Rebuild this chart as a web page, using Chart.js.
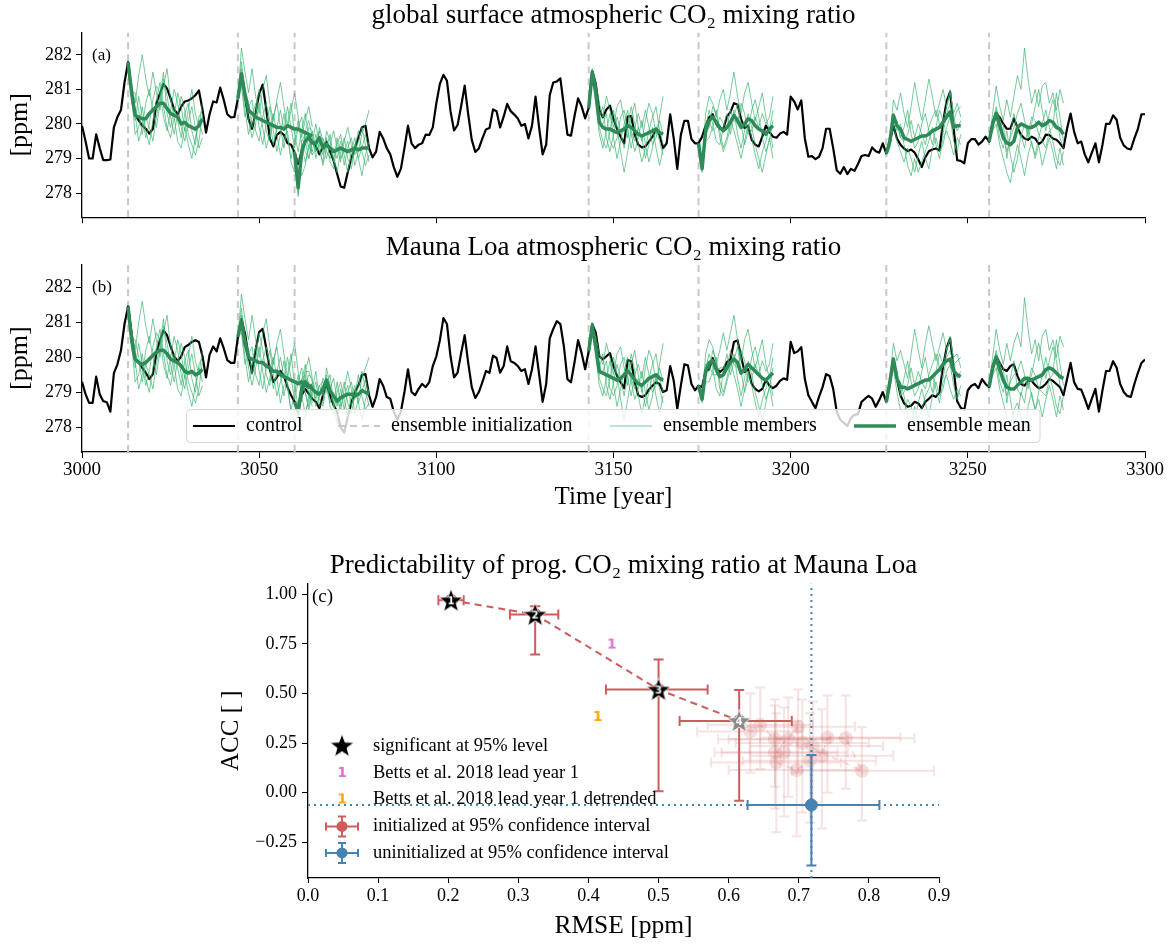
<!DOCTYPE html>
<html>
<head>
<meta charset="utf-8">
<script src="https://cdn.jsdelivr.net/npm/chart.js@4.4.0/dist/chart.umd.min.js"></script>
<style>
html, body { margin: 0; padding: 0; background: #fff; width: 1168px; height: 945px; overflow: hidden; }
.panel { position: absolute; left: 0; width: 1168px; }
#boxA { top: 0; height: 232px; }
#boxB { top: 232px; height: 290px; }
#boxC { top: 550px; height: 395px; }
</style>
</head>
<body>
<div class="panel" id="boxA"><canvas id="chartA"></canvas></div>
<div class="panel" id="boxB"><canvas id="chartB"></canvas></div>
<div class="panel" id="boxC"><canvas id="chartC"></canvas></div>
<script>
// ---- data: control runs, 3000..3300 ----
var years = [];
for (var yr = 3000; yr <= 3300; yr++) years.push(yr);

var controlGlobal = [
279.95,279.5,279.0,279.0,279.7,279.3,278.95,278.95,278.97,279.9,280.2,280.4,281.2,281.79,
280.88,280.28,280.1,279.95,279.86,279.72,279.86,280.6,280.88,281.16,281.02,280.74,280.42,280.28,280.5,280.65,280.68,280.74,280.83,280.97,280.42,279.75,280.28,280.65,280.62,281.05,280.7,280.28,280.19,280.2,280.74,
281.45,280.79,280.14,279.86,280.32,280.88,281.14,280.42,279.58,279.35,279.68,279.77,279.68,279.44,279.4,279.17,278.84,279.21,279.49,279.63,279.49,279.35,279.12,279.35,279.49,279.21,278.94,278.56,278.19,278.15,278.6,279.0,279.3,279.6,279.9,
279.95,279.3,279.03,279.2,279.77,279.58,279.3,279.12,278.75,278.47,278.7,279.3,279.95,279.44,279.3,279.4,279.44,279.69,279.68,279.9,280.6,281.16,281.42,281.25,280.37,279.81,279.97,280.51,281.11,280.28,279.54,279.19,279.29,279.58,279.84,279.88,280.42,280.37,279.9,280.21,280.58,280.37,280.27,280.16,279.95,280.0,279.58,279.95,280.79,279.9,279.12,279.4,280.83,281.2,281.23,281.32,280.51,279.69,279.66,280.23,280.74,280.51,280.16,280.46,281.53,281.16,280.4,
280.19,280.42,280.53,280.14,279.86,279.63,279.44,280.21,280.23,279.68,279.4,279.32,279.35,279.49,279.63,279.86,279.68,279.3,279.44,280.28,279.58,278.7,279.68,280.09,280.09,279.56,279.44,279.44,279.63,279.95,280.19,280.28,280.0,279.86,279.86,280.21,280.34,280.6,280.56,280.14,279.88,279.95,279.54,279.4,279.35,279.63,279.95,279.77,279.63,279.6,279.72,279.77,279.69,280.79,280.65,280.42,280.68,279.58,279.05,279.07,278.98,279.05,279.3,279.86,279.86,279.3,278.66,278.56,278.75,278.55,278.7,278.64,278.84,279.07,279.1,
279.07,279.32,279.21,279.17,279.44,279.14,279.49,279.95,279.58,279.4,279.29,279.21,279.26,279.17,278.98,278.75,279.03,279.21,279.26,279.29,279.23,280.05,280.65,280.93,279.86,278.95,278.93,278.86,279.44,279.56,279.56,279.4,279.49,279.63,279.49,280.05,280.32,280.19,280.0,279.86,279.86,280.16,279.9,279.69,279.58,279.54,279.63,279.58,279.42,279.49,279.69,279.68,279.58,279.54,279.44,279.3,279.86,280.3,279.77,279.44,279.49,279.12,278.89,279.17,279.44,278.89,279.4,280.0,280.0,280.25,280.12,279.6,279.38,279.29,279.26,279.58,279.86,280.28,280.28
];

var controlMauna = [
279.3,278.95,278.7,278.7,279.45,278.95,278.75,278.72,278.45,279.55,279.8,280.2,280.95,281.45,
280.68,279.94,279.86,279.7,279.56,279.38,279.52,280.12,280.49,280.77,280.63,280.31,280.03,279.89,280.03,280.29,280.35,280.44,280.49,280.44,280.03,279.43,280.07,280.31,280.17,280.54,280.26,279.92,279.84,279.84,280.58,
281.09,280.68,280.03,279.56,280.21,280.72,280.81,280.26,279.66,279.29,279.43,279.61,279.47,279.15,278.92,278.73,278.5,278.92,279.1,278.96,278.82,278.73,278.55,278.92,279.24,278.92,278.64,278.45,278.0,277.85,278.3,278.7,279.0,279.2,279.5,
279.52,278.92,278.59,278.87,279.38,279.19,278.87,278.82,278.45,278.22,278.45,279.01,279.66,279.01,278.92,279.1,279.24,279.15,279.29,279.75,280.03,280.49,281.12,280.95,280.03,279.43,279.56,280.12,280.63,279.84,279.15,278.84,279.01,279.29,279.61,279.56,280.05,279.98,279.56,279.75,280.31,279.89,279.84,279.75,279.61,279.66,279.24,279.66,280.31,279.52,278.73,279.24,280.54,280.81,281.03,280.95,280.31,279.38,279.29,279.86,280.49,280.12,279.66,280.17,280.95,280.7,280.03,
279.94,280.03,280.12,279.75,279.47,279.29,279.12,279.92,279.89,279.29,278.92,278.87,278.92,279.08,279.19,279.29,279.24,279.01,279.06,279.75,279.33,278.53,279.19,279.8,279.77,279.24,279.06,279.19,279.15,279.61,279.66,279.98,279.7,279.58,279.66,279.86,279.94,280.44,280.49,280.03,279.58,279.66,279.24,279.1,279.03,279.1,279.36,279.19,279.12,279.19,279.33,279.4,279.36,280.44,280.12,280.17,280.29,279.38,278.92,278.73,278.55,278.87,279.15,279.52,279.47,279.1,278.45,278.22,278.13,278.04,278.27,278.36,278.38,278.73,278.82,
278.9,278.82,278.59,278.78,279.01,278.73,279.29,279.92,279.38,278.92,278.69,278.59,278.62,278.73,278.69,278.55,278.73,278.82,278.92,278.87,279.01,279.75,280.26,280.54,279.66,278.75,278.56,278.5,279.06,279.19,279.24,279.12,279.38,279.24,279.15,279.75,280.03,279.84,279.66,279.61,279.75,279.8,279.47,279.24,279.19,279.33,279.33,279.21,279.12,279.15,279.24,279.38,279.33,279.24,279.15,278.92,279.38,279.84,279.29,279.1,279.08,278.82,278.53,278.82,279.1,278.45,279.06,279.61,279.61,279.89,279.7,279.24,279.01,278.9,278.87,279.24,279.56,279.84,279.94
];

// ---- ensembles: start years, means and members (22 years each) ----
var initYears = [3013, 3044, 3060, 3143, 3174, 3227, 3256];

var meanGlobal = [
[281.79,280.9,280.25,280.2,280.15,280.15,280.3,280.4,280.5,280.6,280.6,280.45,280.3,280.25,280.2,280.0,280.05,279.95,279.9,279.85,279.95,280.15],
[280.74,281.45,280.85,280.4,280.3,280.2,280.15,280.1,280.05,280.0,279.95,279.9,279.9,279.85,279.95,279.9,279.85,279.85,279.8,279.75,279.7,279.65],
[279.17,278.15,279.2,279.5,279.6,279.45,279.45,279.6,279.3,279.4,279.3,279.2,279.25,279.3,279.25,279.2,279.25,279.3,279.25,279.3,279.3,279.3],
[280.46,281.5,280.9,280.05,279.9,279.85,279.85,279.8,279.75,279.8,279.85,279.95,279.9,279.8,279.7,279.65,279.7,279.75,279.8,279.85,279.75,279.7],
[279.44,278.7,279.8,280.1,280.2,280.05,279.9,279.8,279.9,280.05,280.25,280.1,279.9,280.0,280.15,280.1,279.95,279.85,279.8,279.7,279.85,279.95],
[279.14,279.5,280.25,279.95,279.85,279.6,279.55,279.5,279.55,279.6,279.65,279.65,279.7,279.8,279.85,279.9,280.05,280.2,280.35,279.9,279.95,279.95],
[279.49,280.0,280.3,279.95,279.6,279.45,279.4,279.5,279.9,280.0,279.95,279.9,279.9,279.95,280.05,279.95,280.0,280.1,280.05,279.9,279.85,279.7]
];

var meanMauna = [
[281.45,280.5,279.95,279.85,279.8,279.85,279.95,280.05,280.15,280.2,280.2,280.1,279.95,279.9,279.85,279.75,279.6,279.55,279.6,279.5,279.55,279.65],
[280.58,281.05,280.4,280.0,279.95,279.9,279.85,279.85,279.75,279.7,279.6,279.6,279.5,279.45,279.4,279.35,279.3,279.25,279.3,279.2,279.15,279.2],
[278.73,278.45,279.1,279.3,279.2,279.1,279.0,278.95,279.1,279.35,279.05,278.9,278.75,278.85,278.9,278.95,278.95,278.9,278.95,279.05,279.0,278.95],
[280.17,280.9,280.3,279.6,279.55,279.5,279.45,279.4,279.35,279.4,279.5,279.6,279.5,279.35,279.25,279.2,279.3,279.4,279.45,279.5,279.4,279.35],
[279.19,278.8,279.6,279.85,279.9,279.65,279.45,279.5,279.7,279.85,279.95,279.85,279.55,279.65,279.8,279.7,279.6,279.5,279.4,279.35,279.45,279.55],
[278.73,279.3,279.95,279.4,279.15,279.15,279.1,279.15,279.2,279.25,279.3,279.35,279.35,279.45,279.55,279.65,279.8,279.9,279.95,279.6,279.5,279.45],
[279.15,279.7,280.0,279.65,279.35,279.15,279.1,279.1,279.2,279.3,279.4,279.4,279.35,279.4,279.45,279.5,279.65,279.7,279.65,279.55,279.45,279.4]
];

var membersGlobal = [
[
[281.8,281.2,280.6,281.4,282.0,281.3,280.8,281.5,280.9,280.4,281.1,281.6,280.7,280.2,280.9,280.5,279.8,280.4,281.0,280.3,279.9,280.6],
[281.8,280.8,279.7,279.9,280.5,279.8,279.4,280.1,280.7,281.2,280.5,279.9,279.6,280.2,279.5,279.3,279.9,279.4,279.0,279.6,280.1,279.7],
[281.8,280.6,280.3,279.5,279.9,280.6,281.0,280.4,279.9,280.6,281.3,280.8,280.2,279.7,280.3,280.8,280.4,279.7,279.4,279.1,279.5,280.3],
[281.8,281.0,280.1,280.8,280.2,279.6,280.0,280.7,281.1,280.9,280.2,279.8,280.4,281.0,280.6,279.9,279.5,280.1,280.5,279.9,279.3,279.6],
[281.8,280.9,280.9,280.4,279.7,280.2,279.9,279.5,280.2,280.8,281.5,280.3,279.9,280.5,280.1,279.6,280.3,280.6,279.8,279.4,280.2,280.4]
],
[
[280.7,282.2,281.5,280.9,281.6,280.8,280.3,281.0,281.4,280.6,280.1,280.7,281.2,280.5,279.9,280.4,280.9,280.2,279.6,280.1,280.5,279.9],
[280.7,281.3,280.4,279.7,280.2,280.6,279.9,279.4,280.0,280.5,279.8,279.2,279.7,280.3,279.6,279.0,279.5,280.1,279.4,278.9,279.3,279.8],
[280.7,281.6,281.0,280.6,279.9,280.3,281.0,280.5,279.8,279.5,280.2,280.6,279.9,279.3,280.0,280.6,279.7,279.2,279.8,280.3,279.6,279.2],
[280.7,281.1,280.2,280.5,280.7,279.8,279.5,280.2,280.6,280.1,279.4,279.9,280.4,279.8,280.5,279.9,279.3,279.9,280.2,279.5,279.0,279.5],
[280.7,281.8,280.9,280.1,279.6,280.0,280.6,279.9,279.3,279.7,280.3,279.7,279.1,279.6,279.8,278.9,278.6,279.0,278.5,278.8,279.4,279.1]
],
[
[279.2,277.9,279.0,279.8,280.1,279.6,279.2,279.9,279.5,279.0,279.4,279.8,279.3,278.9,279.5,279.9,279.4,278.8,279.2,279.7,280.0,280.4],
[279.2,278.2,279.4,279.2,279.0,279.5,280.0,279.4,278.8,279.3,279.7,279.0,278.6,279.2,279.6,279.0,278.7,279.3,279.8,279.2,278.8,279.1],
[279.2,278.3,278.9,279.6,279.7,279.1,279.3,279.8,279.1,279.6,278.9,278.7,279.4,279.7,279.1,278.6,279.2,279.6,279.0,278.5,279.1,279.5],
[279.2,278.1,279.3,279.4,279.9,279.8,279.0,279.5,279.6,279.2,279.0,279.3,279.0,279.5,278.8,279.3,279.6,279.1,279.5,279.9,279.4,278.9],
[279.2,278.0,279.5,279.7,279.3,279.2,279.7,279.2,278.9,279.8,279.5,278.9,279.6,279.0,279.2,279.5,278.9,279.4,279.0,279.3,279.7,279.2]
],
[
[280.5,281.5,281.2,280.6,280.2,280.8,280.4,279.9,280.5,280.7,280.1,279.6,280.2,280.6,279.9,279.5,280.1,280.6,280.3,279.7,280.2,280.8],
[280.5,281.4,280.6,279.7,279.3,279.8,280.3,279.6,279.0,279.5,280.0,280.4,279.7,279.2,279.6,280.1,279.4,278.9,279.3,279.9,279.5,279.1],
[280.5,281.6,280.8,280.2,280.5,279.6,279.2,279.7,280.2,279.8,279.3,279.9,280.5,280.0,279.4,278.9,279.3,279.8,280.2,280.5,279.8,279.4],
[280.5,281.3,281.0,279.9,279.5,279.3,279.8,280.4,279.9,279.2,278.6,279.2,279.8,279.5,279.9,279.6,279.0,279.4,279.9,279.3,278.8,279.3],
[280.5,281.5,280.7,280.0,280.0,280.3,279.5,279.3,279.6,280.2,280.4,279.8,279.3,279.9,280.3,279.9,280.4,279.9,279.4,279.6,280.1,279.7]
],
[
[279.4,278.6,280.3,280.8,280.6,280.2,280.7,281.0,280.4,280.9,281.5,280.8,280.3,280.9,281.2,280.6,280.1,280.5,280.9,280.2,279.8,280.4],
[279.4,278.8,279.5,279.6,279.9,280.4,279.8,279.3,279.6,280.1,279.8,279.4,279.0,279.5,280.0,279.6,279.1,278.7,279.2,279.5,279.9,279.3],
[279.4,278.7,279.9,280.4,280.0,279.5,279.4,279.9,280.3,279.7,280.2,280.6,280.0,279.4,279.8,280.4,280.7,280.2,279.6,279.2,279.5,280.1],
[279.4,278.7,279.7,279.9,280.5,280.3,279.6,279.2,279.5,279.9,280.4,279.7,279.3,279.8,280.3,279.9,279.4,279.0,278.6,279.1,279.6,279.0],
[279.4,278.8,280.0,280.1,279.8,279.9,280.2,280.0,279.9,280.4,280.1,280.0,280.6,280.3,279.7,279.8,280.2,279.9,280.3,280.0,280.2,280.8]
],
[
[279.1,279.6,280.7,280.4,280.9,280.3,279.9,280.5,281.2,280.6,280.1,280.7,281.3,280.8,280.2,280.6,281.0,280.5,280.9,280.3,280.6,280.2],
[279.1,279.4,280.0,279.5,279.2,278.9,279.3,279.0,278.6,279.1,279.5,279.0,278.7,279.3,279.6,279.2,279.4,279.9,280.2,279.5,279.2,279.7],
[279.1,279.5,280.3,280.0,279.6,279.9,280.4,279.7,279.3,279.5,280.0,280.3,279.8,279.4,279.9,280.4,280.1,280.5,281.0,280.2,279.8,280.1],
[279.1,279.3,280.2,279.8,280.0,279.4,278.8,278.5,279.0,278.6,278.9,279.2,279.5,279.9,279.4,279.0,279.6,279.8,279.5,279.1,279.6,279.4],
[279.1,279.7,280.1,280.1,279.6,279.5,279.7,280.1,279.6,280.0,279.7,279.4,279.9,280.2,280.4,280.0,279.7,280.3,280.6,280.1,280.4,280.5]
],
[
[279.5,280.3,281.1,280.5,280.1,280.7,280.2,280.8,281.4,281.0,282.2,281.3,280.6,281.0,280.5,281.1,281.2,280.6,280.9,280.4,281.0,280.6],
[279.5,279.8,280.0,279.4,279.0,278.6,278.3,278.9,279.4,279.0,278.5,279.1,279.5,279.0,279.4,278.8,279.2,279.6,279.2,278.7,279.3,278.8],
[279.5,280.1,280.4,280.2,279.7,279.2,279.6,279.9,280.3,280.6,280.1,279.6,280.0,280.5,281.0,280.4,279.8,280.3,280.7,280.3,279.6,279.3],
[279.5,279.9,280.2,279.6,279.3,279.8,279.1,278.6,279.0,279.7,279.3,279.9,279.4,279.1,279.6,280.0,280.4,279.9,279.5,279.0,278.8,279.2],
[279.5,280.0,280.5,280.0,280.0,279.0,279.7,280.3,279.8,279.6,280.0,279.7,280.2,280.1,279.7,279.5,279.3,279.8,279.9,280.9,280.2,279.5]
]
];

var membersMauna = [
[
[281.4,280.8,280.2,281.0,281.6,280.9,280.4,281.1,280.5,280.0,280.7,281.2,280.3,279.8,280.5,280.1,279.4,280.0,280.6,279.9,279.5,280.2],
[281.4,280.4,279.3,279.5,280.1,279.4,279.0,279.7,280.3,280.8,280.1,279.5,279.2,279.8,279.1,278.9,279.5,279.0,278.6,279.2,279.7,279.3],
[281.4,280.2,279.9,279.1,279.5,280.2,280.6,280.0,279.5,280.2,280.9,280.4,279.8,279.3,279.9,280.4,280.0,279.3,279.0,278.7,279.1,279.9],
[281.4,280.6,279.7,280.4,279.8,279.2,279.6,280.3,280.7,280.5,279.8,279.4,280.0,280.6,280.2,279.5,279.1,279.7,280.1,279.5,278.9,279.2],
[281.4,280.5,280.5,280.0,279.3,279.8,279.5,279.1,279.8,280.4,281.1,279.9,279.5,280.1,279.7,279.2,279.9,280.2,279.4,279.0,279.8,280.0]
],
[
[280.6,281.8,281.1,280.5,281.2,280.5,280.0,280.7,281.1,280.3,279.8,280.4,280.8,280.1,279.4,279.9,280.4,279.6,279.1,279.6,280.0,279.4],
[280.6,280.9,280.0,279.3,279.8,280.3,279.6,279.1,279.7,280.2,279.5,278.9,279.3,279.9,279.1,278.5,279.0,279.5,278.9,278.4,278.8,279.3],
[280.6,281.2,280.6,280.2,279.5,280.0,280.7,280.2,279.5,279.2,279.9,280.3,279.5,278.9,279.5,280.1,279.2,278.6,279.3,279.8,279.1,278.7],
[280.6,280.7,279.8,280.1,280.3,279.5,279.2,279.9,280.3,279.8,279.1,279.6,280.0,279.4,280.0,279.4,278.8,279.3,279.7,279.0,278.5,279.0],
[280.6,281.4,280.5,279.7,279.2,279.7,280.3,279.6,279.0,279.4,280.0,279.4,278.7,279.2,279.3,278.4,278.1,278.5,278.0,278.3,278.9,278.6]
],
[
[278.7,278.3,278.9,279.6,279.6,279.3,278.8,279.2,279.3,279.0,279.1,279.4,278.8,278.5,279.1,279.6,279.1,278.4,278.8,279.4,279.7,280.0],
[278.7,278.5,279.3,279.0,278.6,279.1,279.6,278.8,278.6,279.2,279.5,278.7,278.1,278.8,279.3,278.7,278.4,278.9,279.5,278.9,278.5,278.7],
[278.7,278.6,278.8,279.4,279.3,278.8,278.9,279.2,278.9,279.5,278.6,278.4,279.0,279.3,278.8,278.3,278.9,279.2,278.7,278.2,278.8,279.1],
[278.7,278.4,279.2,279.2,279.5,279.4,278.6,278.9,279.4,279.1,278.7,279.0,278.6,279.1,278.5,279.0,279.3,278.8,279.2,279.6,279.1,278.6],
[278.7,278.4,279.4,279.5,278.9,278.9,279.3,278.6,278.7,279.7,279.2,278.6,279.3,278.6,278.9,279.2,278.6,279.1,278.7,279.0,279.4,278.9]
],
[
[280.2,280.9,280.6,280.1,279.8,280.4,280.0,279.5,280.1,280.3,279.7,279.2,279.8,280.2,279.5,279.0,279.7,280.2,279.9,279.3,279.8,280.4],
[280.2,280.8,280.0,279.2,278.9,279.4,279.9,279.2,278.6,279.1,279.6,280.0,279.3,278.8,279.1,279.6,279.0,278.5,278.9,279.5,279.1,278.7],
[280.2,281.0,280.2,279.7,280.1,279.2,278.8,279.3,279.8,279.4,278.9,279.5,280.1,279.6,278.9,278.4,278.9,279.4,279.8,280.1,279.4,279.0],
[280.2,280.7,280.4,279.4,279.1,278.9,279.4,280.0,279.5,278.8,278.2,278.8,279.4,279.1,279.4,279.1,278.6,279.0,279.5,278.9,278.4,278.9],
[280.2,280.9,280.1,279.5,279.6,279.9,279.1,278.9,279.2,279.8,280.0,279.4,278.9,279.5,279.8,279.4,280.0,279.5,279.0,279.2,279.7,279.3]
],
[
[279.2,278.7,280.1,280.5,280.3,279.8,280.2,280.7,280.2,280.7,281.2,280.5,279.9,280.5,280.8,280.2,279.7,280.1,280.5,279.8,279.4,280.0],
[279.2,278.9,279.3,279.3,279.6,280.0,279.3,279.0,279.4,279.9,279.5,279.1,278.6,279.1,279.6,279.2,278.7,278.3,278.8,279.1,279.5,278.9],
[279.2,278.8,279.7,280.1,279.7,279.1,278.9,279.6,280.1,279.5,279.9,280.3,279.6,279.0,279.4,280.0,280.3,279.8,279.2,278.8,279.1,279.7],
[279.2,278.8,279.5,279.6,280.2,279.9,279.1,278.9,279.3,279.7,280.1,279.4,278.9,279.4,279.9,279.5,279.0,278.6,278.2,278.7,279.2,278.6],
[279.2,278.9,279.8,279.8,279.5,279.5,279.7,279.7,279.7,280.2,279.8,279.7,280.2,279.9,279.3,279.4,279.8,279.5,279.9,279.6,279.8,280.4]
],
[
[278.7,279.4,280.4,279.9,280.2,279.8,279.4,280.1,280.8,280.2,279.7,280.4,280.9,280.4,279.9,280.3,280.7,280.2,280.5,280.0,280.1,279.7],
[278.7,279.2,279.7,279.0,278.5,278.4,278.8,278.6,278.2,278.7,279.1,278.7,278.3,278.9,279.3,278.9,279.1,279.6,279.8,279.2,278.8,279.2],
[278.7,279.3,280.0,279.5,278.9,279.4,279.9,279.3,278.9,279.1,279.6,280.0,279.4,279.0,279.6,280.1,279.8,280.2,280.6,279.9,279.4,279.6],
[278.7,279.1,279.9,279.3,279.3,278.9,278.3,278.1,278.6,278.2,278.5,278.9,279.1,279.5,279.1,278.7,279.3,279.5,279.1,278.8,279.1,278.9],
[278.7,279.5,279.8,279.6,278.9,279.0,279.2,279.7,279.2,279.6,279.3,279.1,279.5,279.8,280.1,279.7,279.4,280.0,280.2,279.8,279.9,280.0]
],
[
[279.2,280.0,280.8,280.2,279.8,280.4,279.9,280.4,280.7,280.3,281.7,280.8,280.1,280.5,279.9,280.6,280.8,280.2,280.5,280.0,280.6,280.3],
[279.2,279.5,279.7,279.1,278.7,278.3,278.0,278.5,278.7,278.3,277.9,278.6,279.0,278.5,278.8,278.3,278.8,279.2,278.8,278.3,278.9,278.5],
[279.2,279.8,280.1,279.9,279.4,278.9,279.3,279.5,279.6,279.9,279.5,279.1,279.5,280.0,280.4,279.9,279.4,279.9,280.3,279.9,279.2,279.0],
[279.2,279.6,279.9,279.3,279.0,279.5,278.8,278.2,278.3,279.0,278.7,279.4,278.9,278.5,279.0,279.5,280.0,279.5,279.1,278.6,278.4,278.9],
[279.2,279.7,280.2,279.7,279.7,278.7,279.4,279.9,279.1,278.9,279.4,279.2,279.7,279.5,279.1,279.0,278.9,279.4,279.5,280.5,279.8,279.2]
]
];

var timeTicks = [3000, 3050, 3100, 3150, 3200, 3250, 3300];
var ppmTicks = [278, 279, 280, 281, 282];
var PPM_MIN = 277.3, PPM_MAX = 282.65;

// ---- data: predictability skill by lead year ----
var leadYears = [1,2,3,4,5,6,7,8,9,10,11,12,13,14,15,16,17,18,19,20];
var leadRmse     = [0.204,0.324,0.500,0.615,0.631,0.645,0.666,0.685,0.699,0.666,0.679,0.668,0.697,0.716,0.720,0.733,0.741,0.767,0.790,0.705];
var leadRmseLow  = [0.186,0.288,0.425,0.530,0.555,0.570,0.585,0.600,0.620,0.580,0.590,0.575,0.600,0.620,0.630,0.630,0.645,0.665,0.690,0.610];
var leadRmseHigh = [0.222,0.357,0.570,0.690,0.705,0.720,0.745,0.770,0.780,0.755,0.770,0.760,0.790,0.810,0.820,0.835,0.845,0.865,0.893,0.800];
var leadAcc      = [0.970,0.898,0.520,0.362,0.308,0.342,0.270,0.270,0.332,0.203,0.203,0.152,0.114,0.161,0.236,0.186,0.278,0.275,0.110,0.250];
var leadAccLow   = [0.958,0.697,0.007,-0.040,0.100,0.120,0.030,-0.020,0.100,-0.080,-0.120,-0.200,-0.220,-0.150,-0.050,-0.180,0.000,0.020,-0.140,-0.100];
var leadAccHigh  = [0.982,0.940,0.672,0.518,0.500,0.530,0.470,0.480,0.520,0.440,0.430,0.400,0.360,0.400,0.460,0.420,0.490,0.490,0.330,0.470];
var significantLeads = 4;

var uninitRmse = [0.718], uninitRmseLow = [0.627], uninitRmseHigh = [0.815];
var uninitAcc = [-0.062], uninitAccLow = [-0.367], uninitAccHigh = [0.190];

var bettsRmse = [0.433], bettsAcc = [0.747];
var bettsDetrendedRmse = [0.413], bettsDetrendedAcc = [0.382];

var rmseTicks = [0, 0.1, 0.2, 0.3, 0.4, 0.5, 0.6, 0.7, 0.8, 0.9];
var accTicks = [-0.25, 0, 0.25, 0.5, 0.75, 1.0];
var ACC_MIN = -0.43, ACC_MAX = 1.055;

// ---- styling ----
var SERIF = "'Liberation Serif', 'DejaVu Serif', serif";
Chart.defaults.font.family = SERIF;
Chart.defaults.color = '#000';

var MEMBER = 'rgba(60,179,113,0.7)';
var MEAN = '#2e8b57';
var RED = 'rgb(205,92,92)';
var RED_FADED = 'rgba(205,92,92,0.2)';
var BLUE = 'rgb(70,130,180)';

function fixedTicks(list) {
  return function(scale) { scale.ticks = list.map(function(v) { return {value: v}; }); };
}

var panelLabel = {
  id: 'panelLabel',
  afterDraw: function(chart, args, opts) {
    var a = chart.chartArea, ctx = chart.ctx;
    ctx.save();
    ctx.font = opts.size + 'px ' + SERIF;
    ctx.fillStyle = '#000';
    ctx.textBaseline = 'middle';
    ctx.fillText(opts.text, a.left + opts.dx, a.top + opts.dy);
    ctx.restore();
  }
};

var ensembleLegend = {
  id: 'ensembleLegend',
  afterDraw: function(chart) {
    var ctx = chart.ctx, a = chart.chartArea;
    var x0 = a.left + 104.5, x1 = a.left + 958, y1 = a.bottom - 9.5, y0 = y1 - 33;
    ctx.save();
    ctx.beginPath();
    ctx.roundRect(x0, y0, x1 - x0, y1 - y0, 4);
    ctx.fillStyle = 'rgba(255,255,255,0.8)';
    ctx.fill();
    ctx.strokeStyle = '#d6d6d6';
    ctx.lineWidth = 1;
    ctx.stroke();
    var yc = (y0 + y1) / 2;
    var items = [
      {text: 'control', color: '#000', w: 2.2, dash: [], x: 111},
      {text: 'ensemble initialization', color: '#c8c8c8', w: 2, dash: [7, 5], x: 256},
      {text: 'ensemble members', color: MEMBER, w: 1, dash: [], x: 528},
      {text: 'ensemble mean', color: MEAN, w: 3.5, dash: [], x: 772}
    ];
    ctx.font = '20px ' + SERIF;
    ctx.textBaseline = 'middle';
    items.forEach(function(it) {
      ctx.beginPath();
      ctx.setLineDash(it.dash);
      ctx.strokeStyle = it.color;
      ctx.lineWidth = it.w;
      ctx.moveTo(a.left + it.x, yc);
      ctx.lineTo(a.left + it.x + 42, yc);
      ctx.stroke();
      ctx.setLineDash([]);
      ctx.fillStyle = '#000';
      ctx.fillText(it.text, a.left + it.x + 53, yc);
    });
    ctx.restore();
  }
};

function seriesChart(id, control, means, members, titleText, label, bottom) {
  var datasets = [];
  means.forEach(function(m, k) {
    datasets.push({data: m.map(function(v, i) { return {x: initYears[k] + i, y: v}; }),
      borderColor: MEAN, borderWidth: 3.5, order: 0});
  });
  members.forEach(function(group, k) {
    group.forEach(function(m) {
      datasets.push({data: m.map(function(v, i) { return {x: initYears[k] + i, y: v}; }),
        borderColor: MEMBER, borderWidth: 1, order: 1});
    });
  });
  datasets.push({data: control.map(function(v, i) { return {x: years[i], y: v}; }),
    borderColor: '#000', borderWidth: 2.2, order: 2});
  var vlines = [];
  initYears.forEach(function(y) {
    vlines.push({x: y, y: PPM_MIN}, {x: y, y: PPM_MAX}, {x: y, y: null});
  });
  datasets.push({data: vlines, borderColor: '#c8c8c8', borderWidth: 2, borderDash: [7, 5], order: 3, spanGaps: false});

  var plugins = [panelLabel];
  if (bottom) plugins.push(ensembleLegend);

  return new Chart(document.getElementById(id), {
    type: 'line',
    data: {datasets: datasets},
    options: {
      responsive: true,
      maintainAspectRatio: false,
      animation: false,
      events: [],
      elements: {point: {radius: 0}, line: {tension: 0, borderJoinStyle: 'round'}},
      layout: {padding: {left: 0, right: 23, top: 0, bottom: 0}},
      plugins: {
        legend: {display: false},
        tooltip: {enabled: false},
        title: {display: true, text: titleText, fullSize: false, color: '#000',
          font: {size: 27, weight: 'normal'}, padding: {top: 0, bottom: 0}},
        panelLabel: {text: label, dx: 10, dy: 23, size: 17}
      },
      scales: {
        x: {
          type: 'linear', min: 3000, max: 3300,
          afterBuildTicks: fixedTicks(timeTicks),
          afterFit: function(s) { s.height = bottom ? 70 : 10; },
          ticks: {display: bottom, autoSkip: false, maxRotation: 0, padding: 1, font: {size: 19},
            callback: function(v) { return String(v); }},
          grid: {drawOnChartArea: false, drawTicks: true, tickLength: 6, tickColor: '#000', tickWidth: 1},
          border: {display: true, color: '#000', width: 1.3},
          title: {display: bottom, text: 'Time [year]', font: {size: 25}, padding: {top: 0, bottom: 10}}
        },
        y: {
          min: PPM_MIN, max: PPM_MAX,
          afterBuildTicks: fixedTicks(ppmTicks),
          afterFit: function(s) { s.width = 82; },
          ticks: {padding: 4, font: {size: 18}, callback: function(v) { return String(v); }},
          grid: {drawOnChartArea: false, drawTicks: true, tickLength: 6, tickColor: '#000', tickWidth: 1},
          border: {display: true, color: '#000', width: 1.3},
          title: {display: true, text: '[ppm]', font: {size: 26}, padding: {top: 5, bottom: 0}}
        }
      }
    },
    plugins: plugins
  });
}

seriesChart('chartA', controlGlobal, meanGlobal, membersGlobal,
  'global surface atmospheric CO\u2082 mixing ratio', '(a)', false);
seriesChart('chartB', controlMauna, meanMauna, membersMauna,
  'Mauna Loa atmospheric CO\u2082 mixing ratio', '(b)', true);

// ---- panel (c) ----
function starImage(num, fill) {
  var c = document.createElement('canvas');
  c.width = 28; c.height = 28;
  var g = c.getContext('2d');
  g.beginPath();
  for (var i = 0; i < 10; i++) {
    var r = i % 2 === 0 ? 12.5 : 5.2;
    var ang = -Math.PI / 2 + i * Math.PI / 5;
    g.lineTo(14 + r * Math.cos(ang), 15 + r * Math.sin(ang));
  }
  g.closePath();
  g.fillStyle = fill;
  g.fill();
  g.strokeStyle = '#fff';
  g.lineWidth = 0.8;
  g.stroke();
  if (num) {
    g.fillStyle = '#fff';
    g.font = "bold 10px 'DejaVu Sans'";
    g.textAlign = 'center';
    g.textBaseline = 'middle';
    g.fillText(num, 14, 15.5);
  }
  return c;
}

function digitImage(color) {
  var c = document.createElement('canvas');
  c.width = 14; c.height = 18;
  var g = c.getContext('2d');
  g.fillStyle = color;
  g.font = "bold 14px 'DejaVu Sans'";
  g.textAlign = 'center';
  g.textBaseline = 'middle';
  g.fillText('1', 7, 9.5);
  return c;
}

var bettsColor = 'orchid', bettsDetColor = 'orange';
var starImages = leadYears.slice(0, significantLeads).map(function(l, i) {
  return starImage(String(l), i < 3 ? '#000' : '#888');
});
var legendStar = starImage('', '#000');
var bettsImg = digitImage(bettsColor);
var bettsDetImg = digitImage(bettsDetColor);

var errorBars = {
  id: 'errorBars',
  beforeDatasetDraw: function(chart, args) {
    var ds = chart.data.datasets[args.index];
    if (!ds.errorBars) return;
    var e = ds.errorBars, xs = chart.scales.x, ys = chart.scales.y, ctx = chart.ctx;
    ctx.save();
    ctx.strokeStyle = e.color;
    ctx.lineWidth = e.width;
    ds.data.forEach(function(p, i) {
      var px = xs.getPixelForValue(p.x), py = ys.getPixelForValue(p.y);
      var xl = xs.getPixelForValue(e.xLow[i]), xh = xs.getPixelForValue(e.xHigh[i]);
      var yl = ys.getPixelForValue(e.yLow[i]), yh = ys.getPixelForValue(e.yHigh[i]);
      ctx.beginPath();
      ctx.moveTo(xl, py); ctx.lineTo(xh, py);
      ctx.moveTo(px, yl); ctx.lineTo(px, yh);
      ctx.moveTo(xl, py - 5); ctx.lineTo(xl, py + 5);
      ctx.moveTo(xh, py - 5); ctx.lineTo(xh, py + 5);
      ctx.moveTo(px - 5, yl); ctx.lineTo(px + 5, yl);
      ctx.moveTo(px - 5, yh); ctx.lineTo(px + 5, yh);
      ctx.stroke();
    });
    ctx.restore();
  }
};

var skillLegend = {
  id: 'skillLegend',
  afterDraw: function(chart) {
    var ctx = chart.ctx, a = chart.chartArea;
    var mx = a.left + 34, tx = a.left + 65;
    var rows = [163, 189.5, 216, 243, 269.5].map(function(d) { return a.top + d; });
    ctx.save();
    ctx.drawImage(legendStar, mx - 14, rows[0] - 15);
    ctx.drawImage(bettsImg, mx - 7, rows[1] - 9);
    ctx.drawImage(bettsDetImg, mx - 7, rows[2] - 9);
    [[rows[3], RED], [rows[4], BLUE]].forEach(function(r) {
      var y = r[0];
      ctx.strokeStyle = r[1];
      ctx.fillStyle = r[1];
      ctx.lineWidth = 2;
      ctx.beginPath();
      ctx.moveTo(mx - 16, y); ctx.lineTo(mx + 16, y);
      ctx.moveTo(mx, y - 10); ctx.lineTo(mx, y + 10);
      ctx.moveTo(mx - 16, y - 4); ctx.lineTo(mx - 16, y + 4);
      ctx.moveTo(mx + 16, y - 4); ctx.lineTo(mx + 16, y + 4);
      ctx.moveTo(mx - 4, y - 10); ctx.lineTo(mx + 4, y - 10);
      ctx.moveTo(mx - 4, y + 10); ctx.lineTo(mx + 4, y + 10);
      ctx.stroke();
      ctx.beginPath();
      ctx.arc(mx, y, 5.5, 0, Math.PI * 2);
      ctx.fill();
    });
    ctx.fillStyle = '#000';
    ctx.font = '18.5px ' + SERIF;
    ctx.textBaseline = 'middle';
    ['significant at 95% level', 'Betts et al. 2018 lead year 1', 'Betts et al. 2018 lead year 1 detrended',
     'initialized at 95% confidence interval', 'uninitialized at 95% confidence interval'].forEach(function(t, i) {
      ctx.fillText(t, tx, rows[i]);
    });
    ctx.restore();
  }
};

function pts(xs, ys) { return xs.map(function(x, i) { return {x: x, y: ys[i]}; }); }

var sigIdx = leadYears.slice(0, significantLeads).map(function(l, i) { return i; });
var fadeIdx = leadYears.slice(significantLeads).map(function(l, i) { return i + significantLeads; });
function pick(arr, idx) { return idx.map(function(i) { return arr[i]; }); }

new Chart(document.getElementById('chartC'), {
  type: 'scatter',
  data: {
    datasets: [
      {data: pts(leadRmse.slice(significantLeads - 1), leadAcc.slice(significantLeads - 1)), showLine: true,
        borderColor: RED_FADED, borderWidth: 2, borderDash: [7, 5], pointRadius: 0, order: 7},
      {data: pts(pick(leadRmse, fadeIdx), pick(leadAcc, fadeIdx)), pointRadius: 7,
        backgroundColor: RED_FADED, borderColor: 'rgba(205,92,92,0)', order: 6,
        errorBars: {color: 'rgba(205,92,92,0.18)', width: 2,
          xLow: pick(leadRmseLow, fadeIdx), xHigh: pick(leadRmseHigh, fadeIdx),
          yLow: pick(leadAccLow, fadeIdx), yHigh: pick(leadAccHigh, fadeIdx)}},
      {data: [{x: uninitRmse[0], y: ACC_MIN}, {x: uninitRmse[0], y: ACC_MAX}], showLine: true,
        borderColor: BLUE, borderWidth: 2, borderDash: [2, 4], pointRadius: 0, order: 5},
      {data: [{x: 0, y: uninitAcc[0]}, {x: 0.9, y: uninitAcc[0]}], showLine: true,
        borderColor: BLUE, borderWidth: 2, borderDash: [2, 4], pointRadius: 0, order: 5},
      {data: pts(pick(leadRmse, sigIdx), pick(leadAcc, sigIdx)), showLine: true,
        borderColor: RED, borderWidth: 2, borderDash: [7, 5], pointRadius: 0, order: 4},
      {data: pts(pick(leadRmse, sigIdx), pick(leadAcc, sigIdx)), pointRadius: 6,
        backgroundColor: RED, borderColor: RED, order: 3,
        errorBars: {color: RED, width: 2,
          xLow: pick(leadRmseLow, sigIdx), xHigh: pick(leadRmseHigh, sigIdx),
          yLow: pick(leadAccLow, sigIdx), yHigh: pick(leadAccHigh, sigIdx)}},
      {data: pts(uninitRmse, uninitAcc), pointRadius: 6, backgroundColor: BLUE, borderColor: BLUE, order: 2,
        errorBars: {color: BLUE, width: 2, xLow: uninitRmseLow, xHigh: uninitRmseHigh,
          yLow: uninitAccLow, yHigh: uninitAccHigh}},
      {data: pts(pick(leadRmse, sigIdx), pick(leadAcc, sigIdx)), pointStyle: starImages, order: 1},
      {data: pts(bettsRmse, bettsAcc), pointStyle: bettsImg, order: 1},
      {data: pts(bettsDetrendedRmse, bettsDetrendedAcc), pointStyle: bettsDetImg, order: 1}
    ]
  },
  options: {
    responsive: true,
    maintainAspectRatio: false,
    animation: false,
    events: [],
    layout: {padding: {left: 0, right: 229, top: 0, bottom: 0}},
    plugins: {
      legend: {display: false},
      tooltip: {enabled: false},
      title: {display: true, text: 'Predictability of prog. CO\u2082 mixing ratio at Mauna Loa', fullSize: false,
        color: '#000', font: {size: 27, weight: 'normal'}, padding: {top: 0, bottom: 1}},
      panelLabel: {text: '(c)', dx: 4, dy: 14, size: 19}
    },
    scales: {
      x: {
        type: 'linear', min: 0, max: 0.9,
        afterBuildTicks: fixedTicks(rmseTicks),
        afterFit: function(s) { s.height = 67; },
        ticks: {autoSkip: false, maxRotation: 0, padding: 2, font: {size: 18},
          callback: function(v) { return v.toFixed(1); }},
        grid: {drawOnChartArea: false, drawTicks: true, tickLength: 5, tickColor: '#000', tickWidth: 1},
        border: {display: true, color: '#000', width: 1.3},
        title: {display: true, text: 'RMSE [ppm]', font: {size: 25.5}, padding: {top: 0, bottom: 3}}
      },
      y: {
        type: 'linear', min: ACC_MIN, max: ACC_MAX,
        afterBuildTicks: fixedTicks(accTicks),
        afterFit: function(s) { s.width = 308; },
        ticks: {padding: 5, font: {size: 18},
          callback: function(v) { return (v < 0 ? '\u2212' : '') + Math.abs(v).toFixed(2); }},
        grid: {drawOnChartArea: false, drawTicks: true, tickLength: 6, tickColor: '#000', tickWidth: 1},
        border: {display: true, color: '#000', width: 1.3},
        title: {display: true, text: 'ACC [ ]', font: {size: 25}, padding: {top: 216, bottom: 0}}
      }
    }
  },
  plugins: [errorBars, panelLabel, skillLegend]
});
</script>
</body>
</html>
